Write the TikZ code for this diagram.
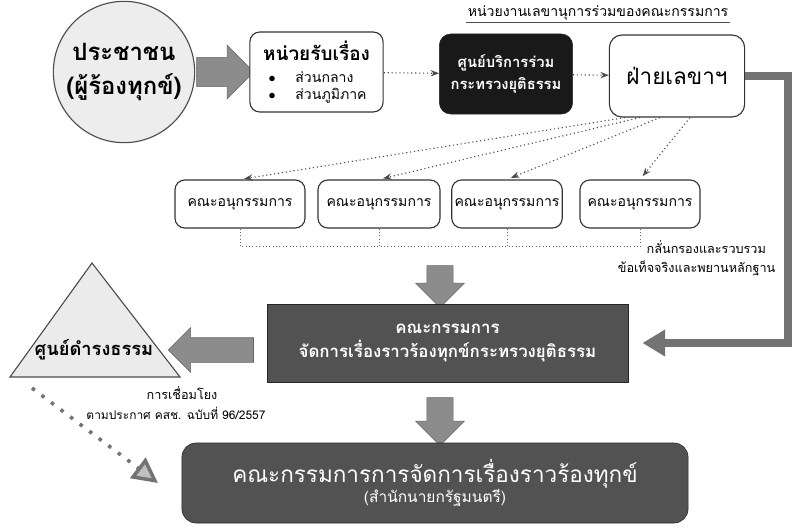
\documentclass[tikz,border=0pt]{standalone}
\usepackage{fontspec}
\setmainfont[Script=Thai]{Loma}
\usetikzlibrary{positioning}
\usetikzlibrary{arrows.meta,shapes}
\usetikzlibrary{shapes.arrows,shapes.geometric}
\usetikzlibrary{calc}
\tikzstyle{roundbox}=[draw=black!80,thick,rounded corners=7pt,fill=white,align=center,inner sep=2pt]
\tikzstyle{subbox}=[roundbox,minimum height=1.2cm,font=\fontsize{10}{12}\selectfont]
\tikzstyle{darkbox}=[fill=black!68,draw=black!85,text=white,align=center]
\tikzstyle{grayarrow}=[single arrow,fill=black!45,draw=black!60,inner xsep=0pt,inner ysep=0.36cm,single arrow head extend=0.3cm]
\tikzstyle{dotedge}=[draw,dotted,thick,black!70,-{Stealth[length=6pt]}]
\tikzstyle{sidetext}=[font=\fontsize{9}{10}\selectfont,inner sep=1pt]

\begin{document}
\begin{tikzpicture}[x=0.025cm,y=-0.025cm]
\useasboundingbox (0,0) rectangle (800,527);

%top row
    \node[circle,draw=black!70,thick,fill=black!7,minimum size=3cm,align=center,font=\bfseries\fontsize{17}{24}\selectfont] (people) at (124,72) {ประชาชน\\(ผู้ร้องทุกข์)};
    \node[grayarrow,minimum height=1.43cm] (a1) at (218,72) {};
    \node[roundbox,minimum width=3.33cm,minimum height=2cm,align=left] (recv) at (316.5,72)
        {{\bfseries\fontsize{13.5}{17}\selectfont หน่วยรับเรื่อง}\\[4pt]
         \fontsize{10}{16}\selectfont\hspace{4pt}$\bullet$\hspace{14pt}ส่วนกลาง\\
         \fontsize{10}{16}\selectfont\hspace{4pt}$\bullet$\hspace{14pt}ส่วนภูมิภาค};
    \node[darkbox,fill=black!90,rounded corners=8pt,minimum width=3.33cm,minimum height=2cm,font=\bfseries\fontsize{10.5}{16}\selectfont] (jsc) at (506,74) {ศูนย์บริการร่วม\\กระทรวงยุติธรรม};
    \node[roundbox,rounded corners=9pt,minimum width=3.38cm,minimum height=2.05cm,font=\fontsize{16}{20}\selectfont] (secr) at (677,76) {ฝ่ายเลขาฯ};
    \node[font=\fontsize{10}{11}\selectfont,inner sep=1pt] (head) at (598,13) {หน่วยงานเลขานุการร่วมของคณะกรรมการ};
    \draw[black!70] (head.south west) -- (head.south east);

    \path[dotedge] (recv) -- (jsc);
    \path[dotedge] (jsc) -- (secr);

%sub-committees
    \foreach \pos/\name/\bw in {{(240,204)/s1/3.25cm}, {(379,204)/s2/3.05cm}, {(507,204)/s3/2.63cm}, {(640,204)/s4/3cm}}
        \node[subbox,minimum width=\bw] (\name) at \pos {คณะอนุกรรมการ};

    \foreach \dx/\dest in {-52/s1, -37/s2, -17/s3, 13/s4}
        \draw[dotedge,shorten >=3pt] ($(secr.south)+(\dx,0)$) -- (\dest.north);

    \draw[dotted,black!60] (s1.south) -- ++(0,18) -| (s4.south);
    \foreach \name in {s2,s3}
        \draw[dotted,black!60] (\name.south) -- ++(0,18);

    \node[sidetext,anchor=west] (note1) at (645,247) {กลั่นกรองและรวบรวม};
    \node[sidetext,anchor=east] (note2) at (777,268) {ข้อเท็จจริงและพยานหลักฐาน};

%committee
    \node[grayarrow,rotate=270,minimum height=1.05cm,inner ysep=0.32cm,single arrow head extend=0.28cm] (d1) at (440,280) {};
    \node[darkbox,minimum width=9.03cm,minimum height=1.95cm,font=\bfseries\fontsize{12}{17}\selectfont] (main) at (447.5,343) {คณะกรรมการ\\จัดการเรื่องราวร้องทุกข์กระทรวงยุติธรรม};

    \coordinate (turn) at (788,76);
    \draw[line width=6pt,black!55,shorten >=10pt,-{Triangle[length=16pt,width=18pt]}] (secr.east) -- (turn) |- (main.east);

%damrongdham
    \draw[fill=black!8,draw=black!70,thick] (10,377) -- (92,263) -- (180,377) -- cycle;
    \node[font=\bfseries\fontsize{13}{15}\selectfont,inner sep=0pt] (dharma) at (94,350) {ศูนย์ดำรงธรรม};
    \node[grayarrow,rotate=180,minimum height=2.13cm,inner ysep=0.3cm,single arrow head extend=0.25cm] (a2) at (217,350) {};

    \node[sidetext] (link) at (182,393) {การเชื่อมโยง};
    \node[sidetext,font=\fontsize{8.5}{10}\selectfont] (ncpo) at (176,413) {ตามประกาศ คสช. ฉบับที่ 96/2557};
    \coordinate (lk) at (32,388);
    \coordinate (lkend) at (158,483);
    \draw[line width=2.5pt,black!55,dash pattern=on 2.5pt off 6pt,-{Triangle[length=18pt,width=18pt,fill=black!25]}] (lk) -- (lkend);

%pm office
    \node[grayarrow,rotate=270,minimum height=1.2cm,inner ysep=0.32cm,single arrow head extend=0.28cm] (d2) at (440,415) {};
    \node[darkbox,rounded corners=10pt,minimum width=12.65cm,minimum height=2cm] (pmo) at (435,483)
        {{\fontsize{16}{22}\selectfont คณะกรรมการการจัดการเรื่องราวร้องทุกข์}\\{\fontsize{11}{14}\selectfont (สำนักนายกรัฐมนตรี)}};

   \end{tikzpicture}
\end{document}
